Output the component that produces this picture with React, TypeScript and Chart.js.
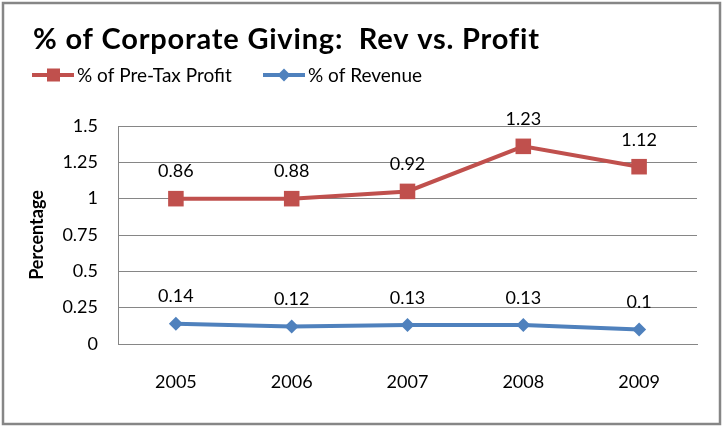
import React, { useEffect, useRef } from 'react';
import { Chart, registerables, Plugin } from 'chart.js';

Chart.register(...registerables);

const years = ['2005', '2006', '2007', '2008', '2009'];
// values where the points sit on the plot
const profitValues = [1.0, 1.0, 1.05, 1.36, 1.22];
const revenueValues = [0.14, 0.12, 0.13, 0.13, 0.1];
// labels printed above the points
const profitLabels = ['0.86', '0.88', '0.92', '1.23', '1.12'];
const revenueLabels = ['0.14', '0.12', '0.13', '0.13', '0.1'];
const yTicks = [0, 0.25, 0.5, 0.75, 1, 1.25, 1.5];

const FONT = 'Lato, "Open Sans", sans-serif';
const RED = '#C0504D';
const BLUE = '#4F81BD';

const framePlugin: Plugin = {
    id: 'frame',
    beforeDraw(chart) {
        const ctx = chart.ctx;
        ctx.save();
        ctx.fillStyle = '#fff';
        ctx.fillRect(0, 0, chart.width, chart.height);
        ctx.strokeStyle = '#868686';
        ctx.lineWidth = 2.5;
        ctx.strokeRect(3, 3, chart.width - 7, chart.height - 5);
        ctx.restore();
    },
    afterDraw(chart) {
        const ctx = chart.ctx as CanvasRenderingContext2D & { letterSpacing?: string };
        ctx.save();
        // title
        ctx.fillStyle = '#000';
        ctx.font = `bold 29px ${FONT}`;
        ctx.letterSpacing = '0.8px';
        ctx.textBaseline = 'alphabetic';
        ctx.textAlign = 'left';
        ctx.fillText('% of Corporate Giving:  Rev vs. Profit', 33, 49);
        ctx.letterSpacing = '0px';

        // legend
        const items = [
            { x: 32, color: RED, style: 'rect', text: chart.data.datasets[0].label as string },
            { x: 263, color: BLUE, style: 'rectRot', text: chart.data.datasets[1].label as string },
        ];
        const ly = 75;
        items.forEach((it) => {
            ctx.strokeStyle = it.color;
            ctx.fillStyle = it.color;
            ctx.lineWidth = 4;
            ctx.beginPath();
            ctx.moveTo(it.x, ly);
            ctx.lineTo(it.x + 42, ly);
            ctx.stroke();
            if (it.style === 'rect') {
                ctx.fillRect(it.x + 15, ly - 6.5, 13, 13);
            } else {
                ctx.beginPath();
                ctx.moveTo(it.x + 21, ly - 6.5);
                ctx.lineTo(it.x + 27.5, ly);
                ctx.lineTo(it.x + 21, ly + 6.5);
                ctx.lineTo(it.x + 14.5, ly);
                ctx.closePath();
                ctx.fill();
            }
            ctx.fillStyle = '#000';
            ctx.font = `19px ${FONT}`;
            ctx.textBaseline = 'middle';
            ctx.fillText(it.text, it.x + 45, ly + 1);
        });

        // data labels
        const allLabels = [profitLabels, revenueLabels];
        ctx.font = `18px ${FONT}`;
        ctx.textAlign = 'center';
        ctx.textBaseline = 'middle';
        ctx.fillStyle = '#000';
        chart.data.datasets.forEach((_, di) => {
            chart.getDatasetMeta(di).data.forEach((pt, i) => {
                ctx.fillText(allLabels[di][i], pt.x, pt.y - 27);
            });
        });
        ctx.restore();
    },
};

const App: React.FC = () => {
    const canvasRef = useRef<HTMLCanvasElement>(null);
    const chartRef = useRef<Chart>();

    useEffect(() => {
        if (!canvasRef.current) return;
        if (chartRef.current) chartRef.current.destroy();

        chartRef.current = new Chart(canvasRef.current, {
            type: 'line',
            data: {
                labels: years,
                datasets: [
                    {
                        label: '% of Pre-Tax Profit',
                        data: profitValues,
                        borderColor: RED,
                        backgroundColor: RED,
                        borderWidth: 4,
                        pointStyle: 'rect',
                        pointRadius: 11,
                        pointBorderWidth: 0,
                        tension: 0,
                    },
                    {
                        label: '% of Revenue',
                        data: revenueValues,
                        borderColor: BLUE,
                        backgroundColor: BLUE,
                        borderWidth: 4,
                        pointStyle: 'rectRot',
                        pointRadius: 7,
                        pointBorderWidth: 0,
                        tension: 0,
                    },
                ],
            },
            options: {
                animation: false,
                responsive: false,
                layout: { padding: { top: 126, left: 20, right: 27, bottom: 0 } },
                plugins: {
                    legend: { display: false },
                    title: { display: false },
                    tooltip: { enabled: false },
                },
                scales: {
                    x: {
                        offset: true,
                        grid: { display: false, drawTicks: false },
                        border: { display: true, color: '#868686', width: 1 },
                        ticks: { color: '#000', font: { family: FONT, size: 18 }, padding: 27 },
                        afterFit: (scale) => {
                            scale.height = 82;
                        },
                    },
                    y: {
                        min: 0,
                        max: 1.5,
                        afterBuildTicks: (scale) => {
                            scale.ticks = yTicks.map((v) => ({ value: v }));
                        },
                        grid: { color: '#868686', drawTicks: false },
                        border: { display: true, color: '#868686', width: 1 },
                        ticks: {
                            color: '#000',
                            font: { family: FONT, size: 18 },
                            padding: 20,
                            callback: (v) => String(v),
                        },
                        title: {
                            display: true,
                            text: 'Percentage',
                            color: '#000',
                            font: { family: FONT, size: 18, weight: 'bold' },
                            padding: { top: 6, bottom: 0 },
                        },
                        afterFit: (scale) => {
                            scale.width = 98;
                        },
                    },
                },
            },
            plugins: [framePlugin],
        });

        return () => {
            if (chartRef.current) chartRef.current.destroy();
        };
    }, []);

    return (
        <div style={{ position: 'absolute', left: 0, top: 0, width: 724, height: 426 }}>
            <canvas ref={canvasRef} width={724} height={426} />
        </div>
    );
};

export default App;
